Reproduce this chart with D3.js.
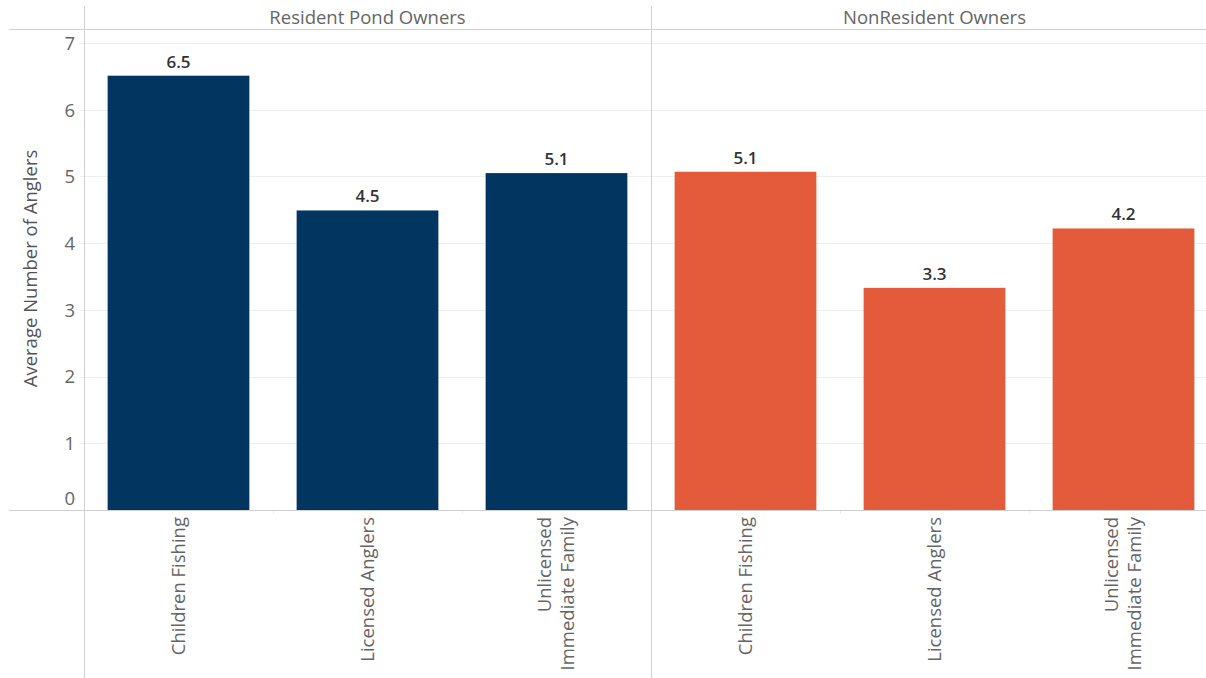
<!DOCTYPE html>
<html><head><meta charset="utf-8">
<script src="https://cdn.jsdelivr.net/npm/d3@7"></script>
<style>body{margin:0;background:#fff;}svg{display:block;font-family:"Open Sans","Noto Sans",sans-serif;}</style>
</head><body>
<svg id="c" width="1206" height="678"></svg>
<script>
const groups = ["Resident Pond Owners", "NonResident Owners"];
const categories = ["Children Fishing", "Licensed Anglers", "Unlicensed Immediate Family"];
const categoryLines = [["Children Fishing"], ["Licensed Anglers"], ["Unlicensed", "Immediate Family"]];
const residentValues = [6.51, 4.49, 5.05];
const nonResidentValues = [5.07, 3.33, 4.22];
const valueLabels = [["6.5", "4.5", "5.1"], ["5.1", "3.3", "4.2"]];
const yTicks = [0, 1, 2, 3, 4, 5, 6, 7];
const colors = ["#023661", "#e35b3a"];
const yTitle = "Average Number of Anglers";

const seriesValues = [residentValues, nonResidentValues];
const svg = d3.select("#c");
const W = 1206, H = 678;
const plotLeft = 84, headerLine = 29, base = 510;
const FF = "'Open Sans','Noto Sans',sans-serif";

const y = d3.scaleLinear().domain([0, 7]).range([base, 43]);
const xOuter = d3.scaleBand().domain(groups).range([plotLeft, plotLeft + 567 * 2]);
const xInner = d3.scaleBand().domain(categories).range([0, xOuter.bandwidth()])
  .paddingInner(0.25).paddingOuter(0.125);

// gridlines
svg.append("g").selectAll("line").data(yTicks.filter(d => d > 0)).join("line")
  .attr("x1", plotLeft - 4).attr("x2", W)
  .attr("y1", d => Math.round(y(d)) + 0.5).attr("y2", d => Math.round(y(d)) + 0.5)
  .attr("stroke", "#efefef").attr("stroke-width", 1);

// y axis labels
const yAxis = d3.axisLeft(y).tickValues(yTicks).tickFormat(d3.format("d")).tickSize(0).tickPadding(9);
const ya = svg.append("g").attr("transform", `translate(${plotLeft},0)`).call(yAxis);
ya.select(".domain").remove();
ya.selectAll("text").attr("font-size", 18.5).attr("fill", "#666")
  .attr("font-family", FF).attr("dy", d => d === 0 ? "-0.32em" : "0.34em");

// y title
svg.append("text").attr("transform", `translate(37,${(43 + base) / 2 - 8}) rotate(-90)`)
  .attr("text-anchor", "middle").attr("font-size", 18.5).attr("fill", "#555").text(yTitle);

// bars
groups.forEach((g, gi) => {
  const gx = xOuter(g);
  const gg = svg.append("g").attr("transform", `translate(${gx},0)`);
  gg.selectAll("rect").data(seriesValues[gi]).join("rect")
    .attr("x", (d, i) => xInner(categories[i]))
    .attr("width", xInner.bandwidth())
    .attr("y", d => y(d)).attr("height", d => base - y(d))
    .attr("fill", colors[gi]);
  gg.selectAll("text.val").data(seriesValues[gi]).join("text").attr("class", "val")
    .attr("x", (d, i) => xInner(categories[i]) + xInner.bandwidth() / 2)
    .attr("y", d => y(d) - 8)
    .attr("text-anchor", "middle").attr("font-size", 17).attr("font-weight", 600)
    .attr("fill", "#333").text((d, i) => valueLabels[gi][i]);
  // category labels
  categories.forEach((c, ci) => {
    const cx = xInner(c) + xInner.bandwidth() / 2;
    const lines = categoryLines[ci];
    lines.forEach((ln, li) => {
      const off = (li - (lines.length - 1) / 2) * 23 + 6;
      svg.append("text")
        .attr("transform", `translate(${gx + cx + off},517) rotate(-90)`)
        .attr("text-anchor", "end").attr("font-size", 18.5).attr("fill", "#666").text(ln);
    });
    if (ci > 0) {
      svg.append("line").attr("x1", gx + xInner.step() * ci + 0.5).attr("x2", gx + xInner.step() * ci + 0.5)
        .attr("y1", base).attr("y2", base + 4).attr("stroke", "#eee");
    }
  });
  // header
  svg.append("text").attr("x", gx + xOuter.bandwidth() / 2).attr("y", 24)
    .attr("text-anchor", "middle").attr("font-size", 18.5).attr("fill", "#666").text(g);
});

// frame lines
svg.append("line").attr("x1", 9).attr("x2", W).attr("y1", headerLine + 0.5).attr("y2", headerLine + 0.5).attr("stroke", "#d0d0d0");
svg.append("line").attr("x1", 9).attr("x2", W).attr("y1", base + 0.5).attr("y2", base + 0.5).attr("stroke", "#d0d0d0");
[plotLeft, xOuter(groups[1])].forEach(x => {
  svg.append("line").attr("x1", Math.round(x) + 0.5).attr("x2", Math.round(x) + 0.5)
    .attr("y1", 6).attr("y2", H).attr("stroke", "#d0d0d0");
});
</script>
</body></html>
